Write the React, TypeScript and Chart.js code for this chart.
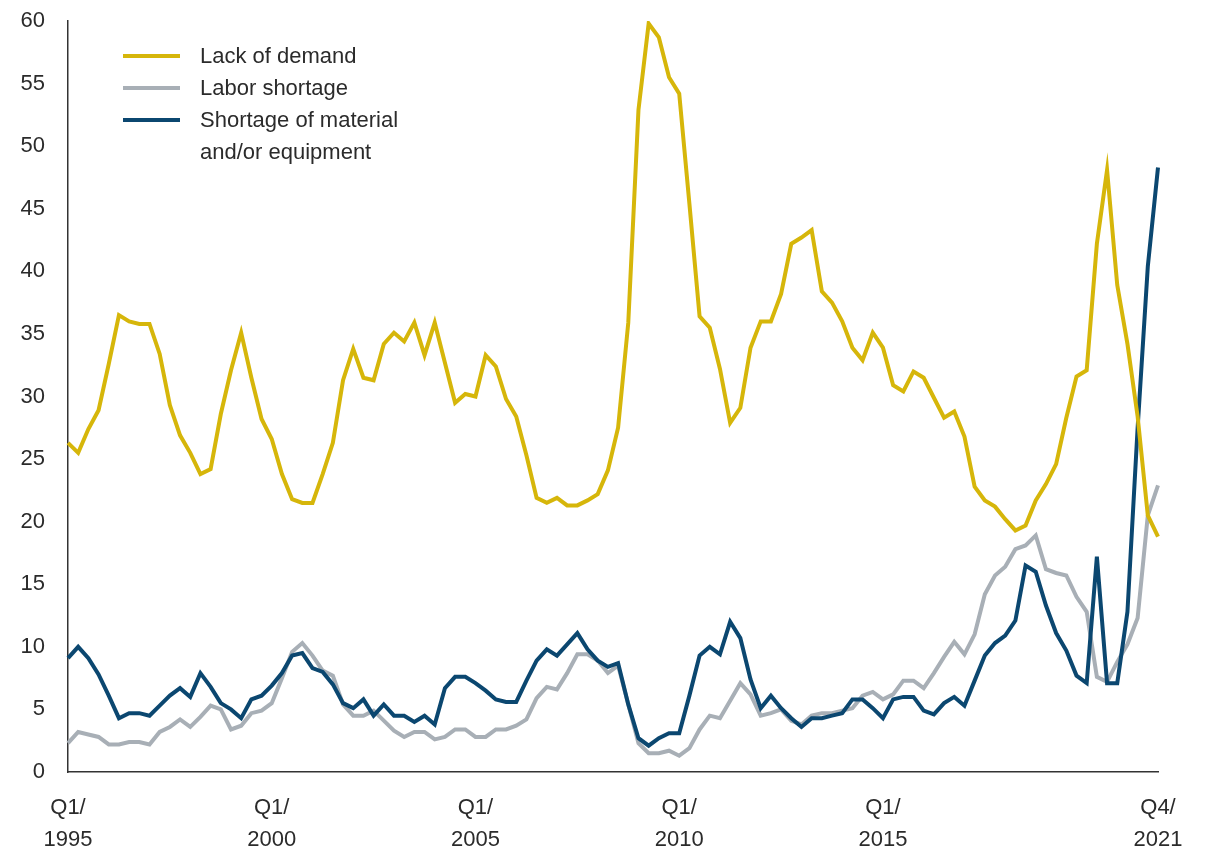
import React, { useEffect, useRef } from "react";
import { Chart, registerables } from "chart.js";

Chart.register(...registerables);

const years = [1995, 1996, 1997, 1998, 1999, 2000, 2001, 2002, 2003, 2004, 2005, 2006, 2007, 2008, 2009, 2010, 2011, 2012, 2013, 2014, 2015, 2016, 2017, 2018, 2019, 2020, 2021];
const quarterNames = ["Q1", "Q2", "Q3", "Q4"];
const categories: string[] = [];
years.forEach((y) => quarterNames.forEach((q) => categories.push(`${q}/${y}`)));

const xTickLabels = ["Q1/1995", "Q1/2000", "Q1/2005", "Q1/2010", "Q1/2015", "Q4/2021"];
const yTicks = [0, 5, 10, 15, 20, 25, 30, 35, 40, 45, 50, 55, 60];

const lackOfDemand = [
  26.3, 25.5, 27.4, 28.9, 32.6, 36.5, 36.0, 35.8, 35.8, 33.4,
  29.3, 26.9, 25.5, 23.8, 24.2, 28.6, 32.1, 35.1, 31.5, 28.2,
  26.6, 23.8, 21.8, 21.5, 21.5, 23.8, 26.3, 31.3, 33.8, 31.5,
  31.3, 34.2, 35.1, 34.4, 35.9, 33.3, 35.9, 32.7, 29.5, 30.2,
  30.0, 33.3, 32.4, 29.8, 28.4, 25.3, 21.9, 21.5, 21.9, 21.3,
  21.3, 21.7, 22.2, 24.1, 27.5, 35.9, 52.9, 59.8, 58.7, 55.5,
  54.2, 45.4, 36.4, 35.5, 32.2, 27.9, 29.1, 33.9, 36.0, 36.0,
  38.2, 42.2, 42.7, 43.3, 38.4, 37.5, 36.0, 33.9, 32.9, 35.1,
  33.9, 30.9, 30.4, 32.0, 31.5, 29.9, 28.3, 28.8, 26.8, 22.8,
  21.7, 21.2, 20.2, 19.3, 19.7, 21.7, 23.0, 24.6, 28.3, 31.6,
  32.1, 42.2, 48.1, 38.9, 34.2, 28.4, 20.5, 18.8,
];

const laborShortage = [
  2.3, 3.2, 3.0, 2.8, 2.2, 2.2, 2.4, 2.4, 2.2, 3.2,
  3.6, 4.2, 3.6, 4.4, 5.3, 5.0, 3.4, 3.7, 4.7, 4.9,
  5.5, 7.5, 9.6, 10.3, 9.3, 8.1, 7.7, 5.4, 4.5, 4.5,
  4.9, 4.1, 3.3, 2.8, 3.2, 3.2, 2.6, 2.8, 3.4, 3.4,
  2.8, 2.8, 3.4, 3.4, 3.7, 4.2, 5.9, 6.8, 6.6, 7.9,
  9.4, 9.4, 8.9, 7.9, 8.5, 5.4, 2.3, 1.5, 1.5, 1.7,
  1.3, 1.9, 3.4, 4.5, 4.3, 5.7, 7.1, 6.2, 4.5, 4.7,
  5.0, 4.1, 3.8, 4.5, 4.7, 4.7, 4.9, 5.1, 6.1, 6.4,
  5.8, 6.2, 7.3, 7.3, 6.7, 7.9, 9.2, 10.4, 9.4, 11.0,
  14.2, 15.7, 16.4, 17.8, 18.1, 18.9, 16.2, 15.9, 15.7, 14.0,
  12.8, 7.6, 7.2, 8.8, 10.2, 12.3, 20.5, 22.9,
];

const materialShortage = [
  9.1, 10.0, 9.1, 7.8, 6.1, 4.3, 4.7, 4.7, 4.5, 5.3,
  6.1, 6.7, 6.0, 7.9, 6.8, 5.5, 5.0, 4.3, 5.8, 6.1,
  6.9, 7.9, 9.3, 9.5, 8.3, 8.0, 7.0, 5.5, 5.1, 5.8,
  4.5, 5.4, 4.5, 4.5, 4.0, 4.5, 3.8, 6.7, 7.6, 7.6,
  7.1, 6.5, 5.8, 5.6, 5.6, 7.3, 8.9, 9.8, 9.3, 10.2,
  11.1, 9.8, 8.9, 8.4, 8.7, 5.4, 2.7, 2.1, 2.7, 3.1,
  3.1, 6.1, 9.3, 10.0, 9.4, 12.0, 10.7, 7.4, 5.1, 6.1,
  5.1, 4.3, 3.6, 4.3, 4.3, 4.5, 4.7, 5.8, 5.8, 5.1,
  4.3, 5.8, 6.0, 6.0, 4.9, 4.6, 5.5, 6.0, 5.3, 7.3,
  9.3, 10.3, 10.9, 12.1, 16.5, 16.0, 13.3, 11.1, 9.7, 7.7,
  7.1, 17.2, 7.1, 7.1, 12.8, 27.5, 40.4, 48.3,
];

const YELLOW = "#d6b60a";
const GRAY = "#a8afb6";
const BLUE = "#0b4770";
const TEXT = "#2b2b2b";
const FONT = "'Liberation Sans', Arial, sans-serif";

const legendItems = [
  { color: YELLOW, lines: ["Lack of demand"] },
  { color: GRAY, lines: ["Labor shortage"] },
  { color: BLUE, lines: ["Shortage of material", "and/or equipment"] },
];

export default function App() {
  const canvasRef = useRef<HTMLCanvasElement | null>(null);

  useEffect(() => {
    if (!canvasRef.current) return;
    const chart = new Chart(canvasRef.current, {
      type: "line",
      data: {
        labels: categories,
        datasets: [
          { label: "Lack of demand", data: lackOfDemand, borderColor: YELLOW, borderWidth: 4, pointRadius: 0, order: 0 },
          { label: "Shortage of material and/or equipment", data: materialShortage, borderColor: BLUE, borderWidth: 4, pointRadius: 0, order: 1 },
          { label: "Labor shortage", data: laborShortage, borderColor: GRAY, borderWidth: 4, pointRadius: 0, order: 2 },
        ],
      },
      options: {
        animation: false,
        responsive: false,
        devicePixelRatio: 1,
        layout: { padding: { top: 21, right: 52, left: 0, bottom: 0 } },
        plugins: { legend: { display: false }, tooltip: { enabled: false } },
        scales: {
          x: {
            type: "category",
            offset: false,
            grid: { display: false, drawTicks: false },
            border: { display: true, color: "#333333", width: 1.5 },
            ticks: {
              autoSkip: false,
              maxRotation: 0,
              minRotation: 0,
              padding: 20,
              color: TEXT,
              font: { family: FONT, size: 22, lineHeight: 1.45 },
              callback: (_v: any, index: number) => {
                const lab = categories[index];
                if (!xTickLabels.includes(lab)) return null;
                const [q, y] = lab.split("/");
                return [q + "/", y];
              },
            },
            afterFit: (scale: any) => {
              scale.height = 82;
            },
          },
          y: {
            min: 0,
            max: 60,
            grid: { display: false, drawTicks: false },
            border: { display: true, color: "#333333", width: 1.5 },
            afterBuildTicks: (scale: any) => {
              scale.ticks = yTicks.map((v) => ({ value: v }));
            },
            ticks: {
              padding: 23,
              color: TEXT,
              font: { family: FONT, size: 22 },
            },
            afterFit: (scale: any) => {
              scale.width = 68;
              scale.paddingTop = 0;
              scale.paddingBottom = 0;
            },
          },
        },
      },
    });
    return () => chart.destroy();
  }, []);

  return (
    <div style={{ position: "absolute", left: 0, top: 0, width: 1210, height: 854, background: "#ffffff" }}>
      <canvas ref={canvasRef} width={1210} height={854} style={{ width: 1210, height: 854, display: "block" }} />
      <div style={{ position: "absolute", left: 123, top: 40, fontFamily: FONT, fontSize: 22, color: TEXT, lineHeight: "32px" }}>
        {legendItems.map((item) => (
          <div key={item.lines[0]} style={{ display: "flex", alignItems: "flex-start" }}>
            <div style={{ width: 57, height: 4, background: item.color, marginTop: 14, marginRight: 20 }} />
            <div>
              {item.lines.map((l) => (
                <div key={l}>{l}</div>
              ))}
            </div>
          </div>
        ))}
      </div>
    </div>
  );
}
